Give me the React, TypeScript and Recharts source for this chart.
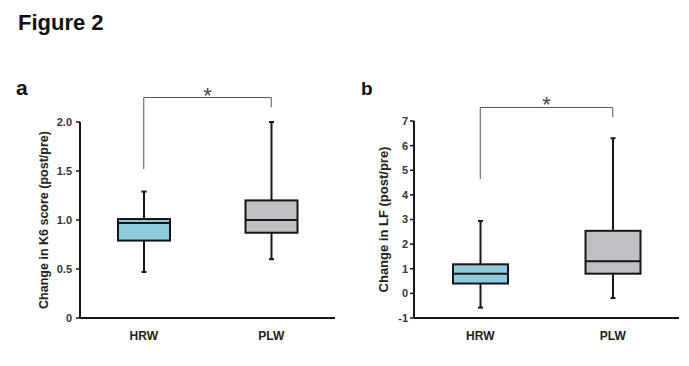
import React from 'react';
import { BarChart, Bar, XAxis, YAxis, ReferenceLine } from 'recharts';

// group names
const categories = ['HRW', 'PLW'];

// panel a: change in K6 score (post/pre)
const k6Min = [0.47, 0.6];
const k6Q1 = [0.79, 0.87];
const k6Median = [0.97, 1.0];
const k6Q3 = [1.01, 1.2];
const k6Max = [1.29, 2.0];
const k6Ticks = [0, 0.5, 1, 1.5, 2];
const k6TickLabels = ['0', '0.5', '1.0', '1.5', '2.0'];
const k6Bracket = [1.52, 2.25, 2.15]; // left leg bottom, bar, right leg bottom

// panel b: change in LF (post/pre)
const lfMin = [-0.58, -0.19];
const lfQ1 = [0.4, 0.8];
const lfMedian = [0.8, 1.3];
const lfQ3 = [1.18, 2.54];
const lfMax = [2.94, 6.3];
const lfTicks = [-1, 0, 1, 2, 3, 4, 5, 6, 7];
const lfTickLabels = ['-1', '0', '1', '2', '3', '4', '5', '6', '7'];
const lfBracket = [4.64, 7.55, 7.15];

const boxFills = ['#8ecbdb', '#c0bfc4'];
const ink = '#161616';
const font = '"Liberation Sans", Arial, sans-serif';

interface BoxRow {
  name: string;
  range: [number, number];
  q1: number;
  median: number;
  q3: number;
  fill: string;
}

function buildRows(mins: number[], q1s: number[], meds: number[], q3s: number[], maxs: number[]): BoxRow[] {
  return categories.map((name, i) => ({
    name,
    range: [mins[i], maxs[i]],
    q1: q1s[i],
    median: meds[i],
    q3: q3s[i],
    fill: boxFills[i],
  }));
}

// draws whisker + box from the range bar geometry given by the y scale
function BoxShape(props: any) {
  const { x, y, width, height, payload } = props;
  const [lo, hi] = payload.range;
  const top = Math.min(y, y + height);
  const bottom = Math.max(y, y + height);
  const k = (bottom - top) / (hi - lo);
  const py = (v: number) => bottom - (v - lo) * k;
  const cx = x + width / 2;
  const cap = 2.5;
  return (
    <g>
      <line x1={cx} x2={cx} y1={top} y2={bottom} stroke={ink} strokeWidth={2} />
      <line x1={cx - cap} x2={cx + cap} y1={top} y2={top} stroke={ink} strokeWidth={2} />
      <line x1={cx - cap} x2={cx + cap} y1={bottom} y2={bottom} stroke={ink} strokeWidth={2} />
      <rect
        x={x}
        y={py(payload.q3)}
        width={width}
        height={py(payload.q1) - py(payload.q3)}
        fill={payload.fill}
        stroke={ink}
        strokeWidth={2}
      />
      <line x1={x} x2={x + width} y1={py(payload.median)} y2={py(payload.median)} stroke={ink} strokeWidth={2} />
    </g>
  );
}

interface PanelProps {
  rows: BoxRow[];
  width: number;
  margin: { top: number; right: number; bottom: number; left: number };
  domain: [number, number];
  ticks: number[];
  tickLabels: string[];
  tickMargin: number;
  yLabel: string;
  labelOffset: number;
  labelSize: number;
  barSize: number;
  bracket: number[];
}

function BoxPanel({ rows, width, margin, domain, ticks, tickLabels, tickMargin, yLabel, labelOffset, labelSize, barSize, bracket }: PanelProps) {
  const [legLeft, barY, legRight] = bracket;
  return (
    <BarChart width={width} height={366} data={rows} margin={margin}>
      <XAxis
        dataKey="name"
        axisLine={{ stroke: ink, strokeWidth: 2 }}
        tickLine={false}
        tickSize={6}
        tickMargin={7}
        tick={{ fill: '#222', fontSize: 12, fontWeight: 700, fontFamily: font }}
      />
      <YAxis
        type="number"
        domain={domain}
        ticks={ticks}
        interval={0}
        width={50}
        tickFormatter={(v: number) => tickLabels[ticks.indexOf(v)]}
        axisLine={{ stroke: ink, strokeWidth: 2 }}
        tickLine={{ stroke: ink, strokeWidth: 1.5 }}
        tickSize={4}
        tickMargin={tickMargin}
        tick={{ fill: '#333', fontSize: 11, fontWeight: 700, fontFamily: font }}
        label={{
          value: yLabel,
          angle: -90,
          position: 'insideLeft',
          offset: labelOffset,
          style: { textAnchor: 'middle', fill: '#222', fontSize: labelSize, fontWeight: 700, fontFamily: font },
        }}
      />
      <Bar dataKey="range" barSize={barSize} shape={<BoxShape />} isAnimationActive={false} />
      <ReferenceLine
        segment={[{ x: categories[0], y: legLeft }, { x: categories[0], y: barY }]}
        ifOverflow="visible"
        stroke="#555"
        strokeWidth={1}
      />
      <ReferenceLine
        segment={[{ x: categories[0], y: barY }, { x: categories[1], y: barY }]}
        ifOverflow="visible"
        stroke="#555"
        strokeWidth={1}
        label={{ value: '*', position: 'top', offset: -5, fill: '#444', fontSize: 22, fontFamily: font }}
      />
      <ReferenceLine
        segment={[{ x: categories[1], y: legRight }, { x: categories[1], y: barY }]}
        ifOverflow="visible"
        stroke="#555"
        strokeWidth={1}
      />
    </BarChart>
  );
}

export default function App() {
  const k6Rows = buildRows(k6Min, k6Q1, k6Median, k6Q3, k6Max);
  const lfRows = buildRows(lfMin, lfQ1, lfMedian, lfQ3, lfMax);
  return (
    <div style={{ position: 'absolute', left: 0, top: 0, width: 689, height: 366, background: '#fff', fontFamily: font }}>
      <div style={{ position: 'absolute', left: 0, top: 0 }}>
        <BoxPanel
          rows={k6Rows}
          width={345}
          margin={{ top: 122, right: 10, bottom: 18, left: 30 }}
          domain={[0, 2]}
          ticks={k6Ticks}
          tickLabels={k6TickLabels}
          tickMargin={4}
          yLabel="Change in K6 score (post/pre)"
          labelOffset={14}
          labelSize={12.5}
          barSize={52}
          bracket={k6Bracket}
        />
      </div>
      <div style={{ position: 'absolute', left: 340, top: 0 }}>
        <BoxPanel
          rows={lfRows}
          width={349}
          margin={{ top: 121, right: 10, bottom: 18, left: 24 }}
          domain={[-1, 7]}
          ticks={lfTicks}
          tickLabels={lfTickLabels}
          tickMargin={2}
          yLabel="Change in LF (post/pre)"
          labelOffset={19}
          labelSize={13}
          barSize={55}
          bracket={lfBracket}
        />
      </div>
      <svg width={689} height={366} style={{ position: 'absolute', left: 0, top: 0, pointerEvents: 'none' }}>
        <text x={18} y={30} fontSize={22} fontWeight={700} fill="#111" fontFamily={font}>Figure 2</text>
        <text x={16} y={95} fontSize={21} fontWeight={700} fill="#111" fontFamily={font}>a</text>
        <text x={361} y={95} fontSize={19} fontWeight={700} fill="#111" fontFamily={font}>b</text>
      </svg>
    </div>
  );
}
